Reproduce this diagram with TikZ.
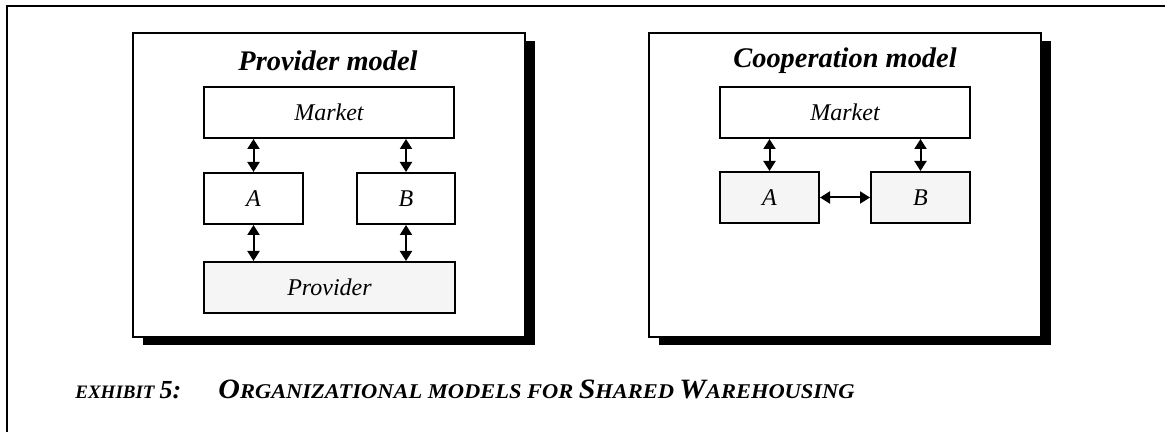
\documentclass[tikz,border=0pt]{standalone}
\usepackage{fontspec}
\setmainfont{Liberation Serif}
\usetikzlibrary{arrows.meta,shadows}

% versalitas a mano
\newcommand{\grande}[1]{{\fontsize{14}{14}\selectfont #1}}
\newcommand{\chica}[1]{{\fontsize{10.5}{10.5}\selectfont #1}}

\begin{document}
\begin{tikzpicture}[x=0.5pt,y=-0.5pt,
    panel/.style={draw, line width=1pt, fill=white, minimum width=196pt, minimum height=152pt,
      drop shadow={shadow xshift=5pt, shadow yshift=-4pt, fill=black, opacity=1}},
    caja/.style={draw, line width=1pt, minimum height=25.5pt, inner sep=0pt,
      font=\itshape\fontsize{12}{12}\selectfont},
    sombreada/.style={caja, fill=black!4},
    flecha/.style={{Triangle[length=5pt,width=6pt]}-{Triangle[length=5pt,width=6pt]}, line width=1pt},
    titulo/.style={font=\bfseries\itshape\fontsize{14.2}{14.2}\selectfont}]
  \useasboundingbox (0,0) rectangle (1165,432);

  % Marco
  \draw[line width=0.8pt] (7,432) -- (7,6) -- (1165,6);

  % Modelo con proveedor
  \node[panel] (provp) at (328.5,185) {};
  \node[titulo] (provt) at (328,61) {Provider model};
  \node[caja, minimum width=125pt] (pmkt) at (329,112.5) {Market};
  \node[caja, minimum width=49.5pt] (pa) at (253.5,198.5) {A};
  \node[caja, minimum width=49pt] (pb) at (406,198.5) {B};
  \node[sombreada, minimum width=125.5pt] (pprov) at (329.5,287.5) {Provider};

  \draw[flecha] (pa.north) -- (pa.north |- pmkt.south);
  \draw[flecha] (pb.north) -- (pb.north |- pmkt.south);
  \draw[flecha] (pa.south) -- (pa.south |- pprov.north);
  \draw[flecha] (pb.south) -- (pb.south |- pprov.north);

  % Modelo de cooperacion
  \node[panel] (coop) at (845,185) {};
  \node[titulo] (coopt) at (845,61) {Cooperation model};
  \node[caja, minimum width=125pt] (cmkt) at (845,112.5) {Market};
  \node[sombreada, minimum width=49.5pt] (ca) at (769.5,197.5) {A};
  \node[sombreada, minimum width=49.5pt] (cb) at (920.5,197.5) {B};

  \draw[flecha] (ca.north) -- (ca.north |- cmkt.south);
  \draw[flecha] (cb.north) -- (cb.north |- cmkt.south);
  \draw[flecha] (ca.east) -- (cb.west);

  % Pie
  \node[anchor=base west, inner sep=0pt, font=\bfseries\itshape] (exh) at (75,398)
    {{\fontsize{9.5}{9.5}\selectfont EXHIBIT} {\fontsize{13}{13}\selectfont 5:}};
  \node[anchor=base west, inner sep=0pt, font=\bfseries\itshape] (pie) at (218,398)
    {\scalebox{1.07}[1]{\grande{O}\chica{RGANIZATIONAL MODELS FOR} \grande{S}\chica{HARED} \grande{W}\chica{AREHOUSING}}};
\end{tikzpicture}
\end{document}
